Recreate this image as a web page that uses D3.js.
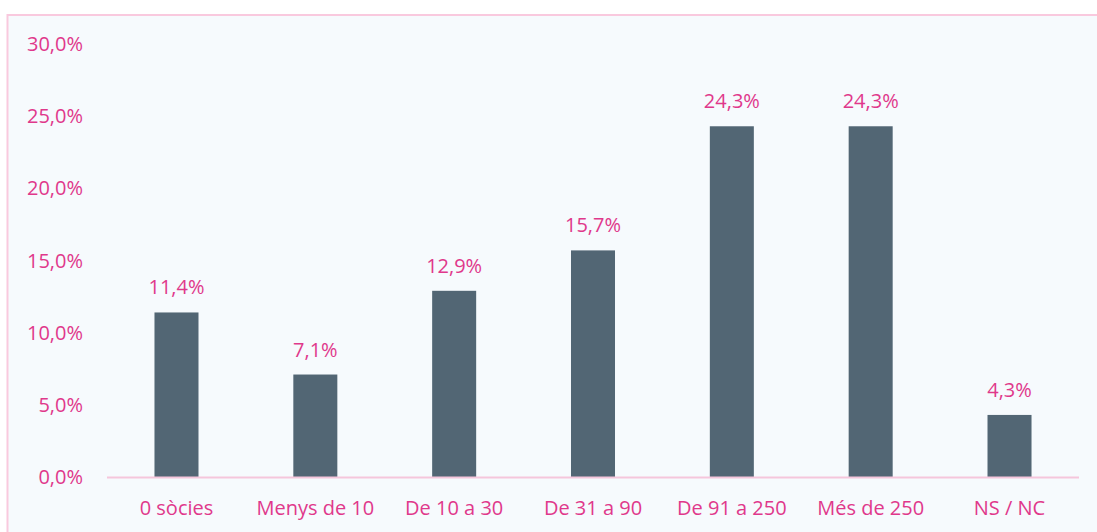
<!DOCTYPE html>
<html>
<head>
<meta charset="utf-8">
<script src="https://cdn.jsdelivr.net/npm/d3@7"></script>
<style>
  body { margin: 0; background: #fff; }
  svg { display: block; }
</style>
</head>
<body>
<div id="app"></div>
<script>
const categories = ["0 sòcies", "Menys de 10", "De 10 a 30", "De 31 a 90", "De 91 a 250", "Més de 250", "NS / NC"];
const values = [11.4, 7.1, 12.9, 15.7, 24.3, 24.3, 4.3];
const yTicks = [0, 5, 10, 15, 20, 25, 30];

const width = 1097;
const height = 532;
const pink = "#e0388b";
const fmt = v => d3.format(".1f")(v).replace(".", ",") + "%";

const svg = d3.select("#app")
    .append("svg")
    .attr("width", width)
    .attr("height", height);

// chart area frame
svg.append("rect")
    .attr("x", 7.5)
    .attr("y", 15)
    .attr("width", width + 10)
    .attr("height", height + 10)
    .attr("fill", "#f6fafd")
    .attr("stroke", "#f9c9de")
    .attr("stroke-width", 2);

const x = d3.scaleBand()
    .domain(categories)
    .range([107, 1079])
    .paddingInner(0.683)
    .paddingOuter(0.342);

const y = d3.scaleLinear()
    .domain([0, 30])
    .range([477, 44]);

const font = "'Open Sans', sans-serif";
const fs = 20;

// y tick labels
svg.append("g")
    .selectAll("text")
    .data(yTicks)
    .join("text")
    .attr("x", 83)
    .attr("y", d => y(d))
    .attr("dy", "0.35em")
    .attr("text-anchor", "end")
    .attr("font-family", font)
    .attr("font-size", fs)
    .attr("fill", pink)
    .text(fmt);

// bars
svg.append("g")
    .selectAll("rect")
    .data(values)
    .join("rect")
    .attr("x", (d, i) => x(categories[i]))
    .attr("y", d => y(d))
    .attr("width", x.bandwidth())
    .attr("height", d => y(0) - y(d))
    .attr("fill", "#526674");

// baseline
svg.append("line")
    .attr("x1", 107)
    .attr("x2", 1079)
    .attr("y1", y(0) + 0.5)
    .attr("y2", y(0) + 0.5)
    .attr("stroke", "#f5c6dc")
    .attr("stroke-width", 2);

// value labels
svg.append("g")
    .selectAll("text")
    .data(values)
    .join("text")
    .attr("x", (d, i) => x(categories[i]) + x.bandwidth() / 2)
    .attr("y", d => y(d) - 18)
    .attr("text-anchor", "middle")
    .attr("font-family", font)
    .attr("font-size", fs)
    .attr("fill", pink)
    .text(fmt);

// category labels
svg.append("g")
    .selectAll("text")
    .data(categories)
    .join("text")
    .attr("x", d => x(d) + x.bandwidth() / 2)
    .attr("y", 515)
    .attr("text-anchor", "middle")
    .attr("font-family", font)
    .attr("font-size", fs)
    .attr("fill", pink)
    .text(d => d);
</script>
</body>
</html>
